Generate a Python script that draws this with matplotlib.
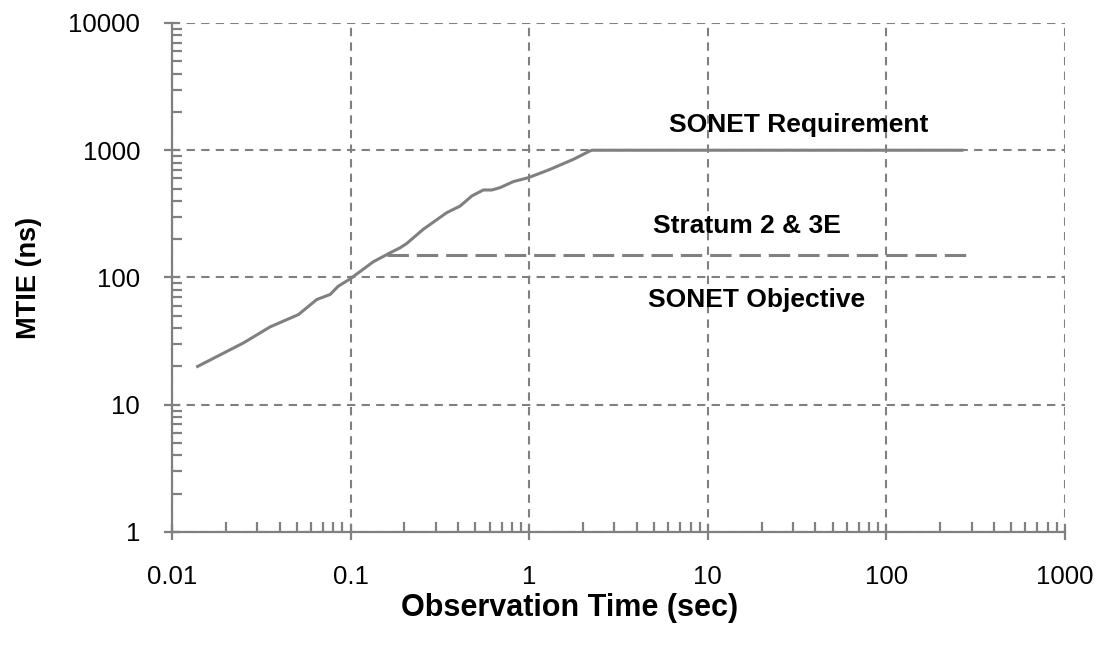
import matplotlib
matplotlib.use("Agg")
import matplotlib.pyplot as plt
from matplotlib.ticker import LogLocator, FixedFormatter, FixedLocator

plt.rcParams['font.family'] = ['Liberation Sans', 'DejaVu Sans']

# SONET requirement MTIE curve (observation time in s, MTIE in ns)
req_t = [0.0139, 0.0251, 0.0354, 0.0510, 0.0646, 0.0767, 0.0853, 0.0996, 0.134,
         0.166, 0.189, 0.206, 0.255, 0.345, 0.41, 0.477, 0.553, 0.617, 0.686,
         0.815, 0.99, 1.31, 1.77, 2.19, 2.25, 265]
req_ns = [20.0, 30.6, 40.9, 51.1, 67.1, 73.5, 85.5, 97.7, 133,
          156, 171, 185, 239, 323, 364, 437, 487, 487, 508,
          567, 609, 708, 849, 988, 1000, 1000]

# Stratum 2 & 3E limit
strat_t = [0.16, 280]
strat_ns = [150, 150]

x_ticks = [0.01, 0.1, 1, 10, 100, 1000]
x_labels = ["0.01", "0.1", "1", "10", "100", "1000"]
y_ticks = [1, 10, 100, 1000, 10000]
y_labels = ["1", "10", "100", "1000", "10000"]

annotations = [("SONET Requirement", 32.4, 1574),
               ("Stratum 2 & 3E", 16.6, 252),
               ("SONET Objective", 18.8, 67.1)]

gray = "#808080"
fig = plt.figure(figsize=(10.96, 6.49), dpi=100)
ax = fig.add_axes([0.157, 0.1803, 0.8147, 0.7843])
ax.set_xscale("log")
ax.set_yscale("log")
ax.set_xlim(0.01, 1000)
ax.set_ylim(1, 10000)

ax.plot(req_t, req_ns, color=gray, lw=2.2, solid_joinstyle="round", zorder=3)
ax.plot(strat_t, strat_ns, color=gray, lw=2.2, linestyle=(0, (7, 2.6)), zorder=3)

ax.xaxis.set_major_locator(FixedLocator(x_ticks))
ax.xaxis.set_major_formatter(FixedFormatter(x_labels))
ax.yaxis.set_major_locator(FixedLocator(y_ticks))
ax.yaxis.set_major_formatter(FixedFormatter(y_labels))
ax.xaxis.set_minor_locator(LogLocator(base=10, subs=range(2, 10), numticks=20))
ax.yaxis.set_minor_locator(LogLocator(base=10, subs=range(2, 10), numticks=20))
ax.xaxis.set_minor_formatter(FixedFormatter([]))
ax.yaxis.set_minor_formatter(FixedFormatter([]))

ax.grid(True, which="major", color=gray, lw=1.5, linestyle=(0, (4, 3)))
ax.grid(False, which="minor")
for s in ["top", "right"]:
    ax.spines[s].set_visible(False)
for s in ["left", "bottom"]:
    ax.spines[s].set_color(gray)
    ax.spines[s].set_linewidth(1.6)

ax.tick_params(which="major", direction="inout", length=12, width=1.6, color=gray,
               labelsize=18.5, labelcolor="black")
ax.tick_params(which="minor", direction="in", length=7, width=1.6, color=gray)
ax.tick_params(axis="x", which="major", pad=18)
ax.tick_params(axis="y", which="major", pad=17)

for txt, x, y in annotations:
    ax.text(x, y, txt, ha="center", va="center", fontsize=19, fontweight="bold")

ax.set_xlabel("Observation Time (sec)", fontsize=22, fontweight="bold")
ax.xaxis.label.set_va("center")
ax.xaxis.set_label_coords((570 - 172) / 893, (532 - 608) / 509)
ax.set_ylabel("MTIE (ns)", fontsize=19.5, fontweight="bold")
ax.yaxis.label.set_va("center")
ax.yaxis.set_label_coords((29 - 172) / 893, 0.5)

fig.savefig("out.png", dpi=100)
